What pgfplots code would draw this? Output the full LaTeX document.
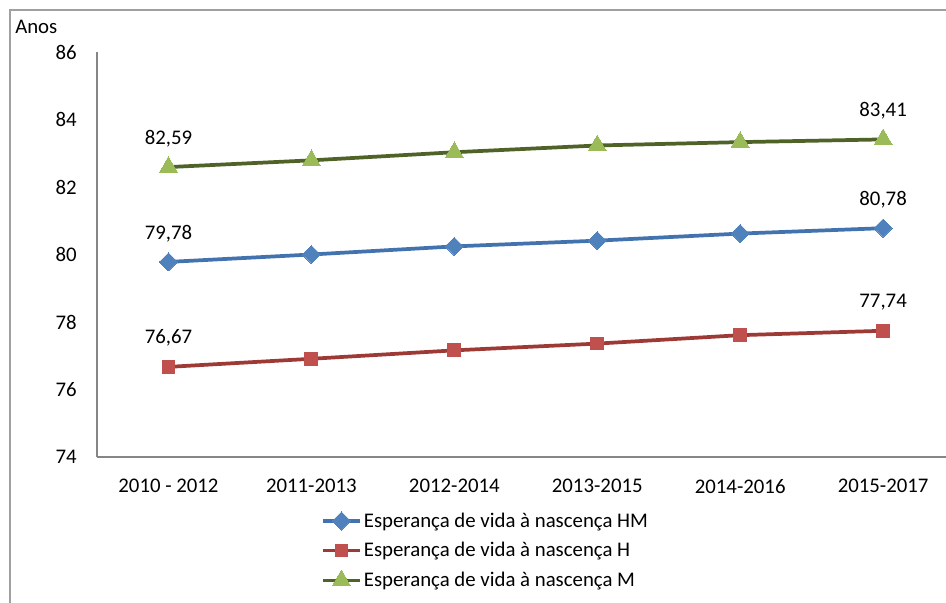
\documentclass[border=0pt]{standalone}
\usepackage{fontspec}
\setmainfont{Carlito}
\usepackage{pgfplots}
\pgfplotsset{compat=1.18}
\usepackage{pgfplotstable}

\definecolor{hmline}{HTML}{4373AE}
\definecolor{hmmark}{HTML}{4F81BD}
\definecolor{hline}{HTML}{9E3A36}
\definecolor{hmark}{HTML}{C0504D}
\definecolor{mline}{HTML}{4F6228}
\definecolor{mmark}{HTML}{9BBB59}
\definecolor{framegray}{HTML}{A0A0A0}
\definecolor{axisgray}{HTML}{868686}

% Esperança de vida à nascença (anos), triénios
\pgfplotstableread{
x hm h m
0 79.78 76.67 82.59
1 80.00 76.91 82.79
2 80.24 77.16 83.03
3 80.41 77.36 83.23
4 80.62 77.61 83.33
5 80.78 77.74 83.41
}\esperanca

\newcommand{\lblfont}{\fontsize{15.6}{18.7}\selectfont}

\begin{document}
\begin{tikzpicture}
\useasboundingbox (0pt,0pt) rectangle (709.5pt,452.25pt);
% outer chart frame
\draw[framegray, line width=1.3pt] (7.5pt,-30pt) -- (7.5pt,444.75pt) -- (740pt,444.75pt);
\node[anchor=west, inner sep=0pt, font=\lblfont] at (11.25pt,432pt) {Anos};

\begin{axis}[
  at={(72.75pt,109.5pt)}, anchor=south west,
  scale only axis, width=636.75pt, height=303.75pt,
  xmin=-0.5, xmax=5.44, ymin=74, ymax=86,
  ytick={74,76,...,86},
  xtick={0,...,5},
  xticklabels={2010 - 2012,2011-2013,2012-2014,2013-2015,2014-2016,2015-2017},
  axis lines=left,
  axis line style={-, draw=axisgray, line width=0.9pt},
  major tick length=0pt,
  /pgf/number format/assume math mode=true,
  tick label style={font=\lblfont, inner sep=0pt},
  yticklabel style={anchor=east, xshift=-15pt},
  xticklabel style={anchor=north, yshift=-16.5pt},
  clip=false,
  legend image code/.code={
    \draw[mark repeat=2,mark phase=2] plot coordinates {(0cm,0cm) (0.49cm,0cm) (0.98cm,0cm)};},
  legend cell align=left,
  legend style={draw=none, fill=none, font=\lblfont,
    at={(0.2635,-0.132)}, anchor=north west,
    row sep=6.9pt, inner sep=0pt,
    nodes={inner sep=1.5pt}},
]
\addplot[hmline, line width=2.8pt, mark=square*, mark size=4.8pt,
  mark options={solid, rotate=45, fill=hmmark, draw=hmmark, line width=0pt}]
  table[x=x, y=hm] {\esperanca};
\addlegendentry{Esperança de vida à nascença HM}
\addplot[hline, line width=2.8pt, mark=square*, mark size=4.8pt,
  mark options={solid, fill=hmark, draw=hmark, line width=0pt}]
  table[x=x, y=h] {\esperanca};
\addlegendentry{Esperança de vida à nascença H}
\addplot[mline, line width=2.8pt, mark=triangle*, mark size=7.8pt,
  mark options={solid, fill=mmark, draw=mmark, line width=0pt}]
  table[x=x, y=m] {\esperanca};
\addlegendentry{Esperança de vida à nascença M}

% value labels on the first and last triénio
\pgfplotsset{endlabels/.style={draw=none, mark=none, forget plot,
  skip coords between index={1}{5},
  nodes near coords, point meta=y,
  nodes near coords style={font=\lblfont, anchor=center, yshift=21.5pt, text=black,
    /pgf/number format/.cd, use comma, fixed, fixed zerofill, precision=2}}}
\addplot[endlabels] table[x=x, y=hm] {\esperanca};
\addplot[endlabels] table[x=x, y=h] {\esperanca};
\addplot[endlabels] table[x=x, y=m] {\esperanca};
\end{axis}
\end{tikzpicture}
\end{document}
